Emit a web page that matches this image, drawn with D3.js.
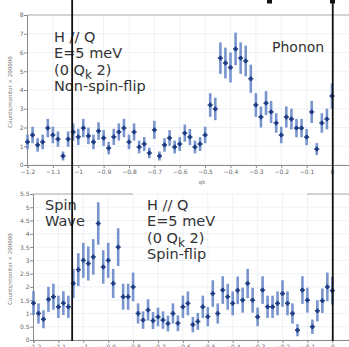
<!DOCTYPE html>
<html>
<head>
<meta charset="utf-8">
<script src="https://cdn.jsdelivr.net/npm/d3@7"></script>
<style>
  body { margin: 0; background: #fff; }
  svg { display: block; }
  text { font-family: "DejaVu Sans", sans-serif; }
</style>
</head>
<body>
<svg id="chart"></svg>
<script>
// qk grid (r.l.u.)
const qk = [-1.2, -1.18, -1.16, -1.14, -1.12, -1.1, -1.08, -1.06, -1.04, -1.02,
  -1.0, -0.98, -0.96, -0.94, -0.92, -0.9, -0.88, -0.86, -0.84, -0.82,
  -0.8, -0.78, -0.76, -0.74, -0.72, -0.7, -0.68, -0.66, -0.64, -0.62,
  -0.6, -0.58, -0.56, -0.54, -0.52, -0.5, -0.48, -0.46, -0.44, -0.42,
  -0.4, -0.38, -0.36, -0.34, -0.32, -0.3, -0.28, -0.26, -0.24, -0.22,
  -0.2, -0.18, -0.16, -0.14, -0.12, -0.1, -0.08, -0.06, -0.04, -0.02, 0];

// non-spin-flip counts / monitor x 200000
const nsfCounts = [1.23, 1.6, 1.07, 1.23, 1.97, 1.6, 1.38, 0.48, 1.38, 1.76,
  1.5, 1.97, 1.55, 1.23, 1.81, 1.44, 0.9, 1.5, 1.76, 1.97,
  1.23, 1.76, 0.96, 1.12, 0.64, 1.87, 0.48, 1.07, 1.44, 0.96,
  1.12, 1.7, 1.49, 0.96, 1.12, 1.6, 3.2, 2.99, 5.7, 5.44,
  5.2, 6.19, 5.7, 5.55, 4.6, 3.2, 2.56, 3.3, 2.83, 2.24,
  1.6, 2.56, 2.45, 1.97, 1.97, 1.49, 2.83, 0.85, 2.24, 2.45, 3.68];
const nsfErr = [0.39, 0.44, 0.36, 0.39, 0.49, 0.44, 0.41, 0.24, 0.41, 0.46,
  0.43, 0.49, 0.44, 0.39, 0.47, 0.42, 0.33, 0.43, 0.46, 0.49,
  0.39, 0.46, 0.34, 0.37, 0.28, 0.48, 0.24, 0.36, 0.42, 0.34,
  0.37, 0.46, 0.43, 0.34, 0.37, 0.44, 0.63, 0.6, 0.84, 0.82,
  0.8, 0.87, 0.84, 0.82, 0.75, 0.63, 0.56, 0.64, 0.59, 0.52,
  0.44, 0.56, 0.55, 0.49, 0.49, 0.43, 0.59, 0.32, 0.52, 0.55, 0.67];

// spin-flip counts / monitor x 200000
const sfCounts = [1.39, 1.0, 0.78, 1.53, 1.63, 1.25, 1.39, 1.25, 2.13, 2.65,
  3.0, 2.88, 3.13, 4.39, 2.75, 3.0, 2.13, 3.5, 1.63, 1.63,
  2.0, 1.0, 0.75, 1.13, 0.73, 0.87, 0.75, 0.62, 1.0, 0.63,
  1.25, 1.38, 0.58, 0.7, 1.25, 0.88, 1.75, 1.0, 1.88, 1.63,
  1.38, 1.87, 1.5, 2.13, 1.5, 0.87, 1.88, 1.25, 1.25, 1.38,
  1.75, 1.38, 1.0, 0.37, 1.88, 1.5, 0.5, 1.1, 1.48, 2.0, 1.86];
const sfErr = [0.45, 0.38, 0.34, 0.47, 0.49, 0.42, 0.45, 0.42, 0.55, 0.62,
  0.66, 0.64, 0.67, 0.8, 0.63, 0.66, 0.55, 0.71, 0.49, 0.49,
  0.54, 0.38, 0.33, 0.4, 0.32, 0.35, 0.33, 0.3, 0.38, 0.3,
  0.42, 0.45, 0.29, 0.32, 0.42, 0.36, 0.5, 0.38, 0.52, 0.49,
  0.45, 0.52, 0.47, 0.55, 0.47, 0.35, 0.52, 0.42, 0.42, 0.45,
  0.5, 0.45, 0.38, 0.23, 0.52, 0.47, 0.27, 0.4, 0.46, 0.54, 0.52];

const xTicks = [-1.2, -1.1, -1, -0.9, -0.8, -0.7, -0.6, -0.5, -0.4, -0.3, -0.2, -0.1, 0];
const nsfYTicks = [0, 1, 2, 3, 4, 5, 6, 7, 8];
const sfYTicks = [0, 0.5, 1, 1.5, 2, 2.5, 3, 3.5, 4, 4.5, 5, 5.5];
const nsfLabel = ["H // Q", "E=5 meV", "(0 Q|k| 2)", "Non-spin-flip"];
const sfLabel = ["H // Q", "E=5 meV", "(0 Q|k| 2)", "Spin-flip"];
const markerQk = [-1.024, 0.003]; // hand-drawn black lines

const W = 349, H = 347;
const svg = d3.select("#chart").attr("width", W).attr("height", H);

const barColor = "#6282c6";
const dotColor = "#1b3a82";
const axisColor = "#8a8a8a";

function drawPanel(p) {
  const x = d3.scaleLinear().domain([-1.2, 0.067]).range([p.left + 0.5, W]);
  const y = d3.scaleLinear().domain([0, p.yMax]).range([p.bottom, p.top]);
  const g = svg.append("g");

  // faint grid
  g.append("g").selectAll("line").data(p.yTicks).join("line")
    .attr("x1", p.left).attr("x2", W)
    .attr("y1", d => y(d)).attr("y2", d => y(d))
    .attr("stroke", "#e7edf4").attr("stroke-width", 0.7);
  g.append("g").selectAll("line").data(xTicks).join("line")
    .attr("x1", d => x(d)).attr("x2", d => x(d))
    .attr("y1", p.top).attr("y2", p.bottom)
    .attr("stroke", "#e7edf4").attr("stroke-width", 0.7);

  // axes
  const yAxis = g.append("g").attr("transform", `translate(${p.left},0)`)
    .call(d3.axisLeft(y).tickValues(p.yTicks).tickSize(3).tickFormat(d3.format("~g")));
  const xAxis = g.append("g").attr("transform", `translate(0,${p.bottom})`)
    .call(d3.axisBottom(x).tickValues(xTicks).tickSize(3).tickFormat(d3.format("~g")));
  [yAxis, xAxis].forEach(a => {
    a.select(".domain").attr("stroke", axisColor);
    a.selectAll(".tick line").attr("stroke", axisColor);
    a.selectAll(".tick text").attr("fill", "#666").attr("font-size", 6)
      .attr("font-family", "DejaVu Sans, sans-serif");
  });
  yAxis.selectAll(".tick text").attr("x", -3.5);
  xAxis.selectAll(".tick text").attr("y", 5);

  // top frame pieces
  p.frame.forEach(f => {
    g.append("line").attr("x1", f[0]).attr("x2", f[1])
      .attr("y1", p.top).attr("y2", p.top)
      .attr("stroke", "#9a9a9a").attr("stroke-width", 0.8);
  });

  // y-axis title
  g.append("text")
    .attr("transform", `translate(12,${(p.top + p.bottom) / 2 + 2}) rotate(-90)`)
    .attr("text-anchor", "middle").attr("font-size", 5.5).attr("fill", "#777")
    .text("Counts/monitor × 200000");

  // data with error bars
  const pts = qk.map((q, i) => ({ q, v: p.counts[i], e: p.err[i] }));
  const pg = g.append("g").selectAll("g").data(pts).join("g")
    .attr("transform", d => `translate(${x(d.q)},0)`);
  pg.append("line")
    .attr("y1", d => y(d.v - d.e)).attr("y2", d => y(d.v + d.e))
    .attr("stroke", barColor).attr("stroke-width", 2.6).attr("stroke-opacity", 0.85);
  pg.append("line")
    .attr("x1", -2.5).attr("x2", 2.5)
    .attr("y1", d => y(d.v)).attr("y2", d => y(d.v))
    .attr("stroke", dotColor).attr("stroke-width", 1.6);
  pg.append("line")
    .attr("y1", d => y(d.v) - 2.2).attr("y2", d => y(d.v) + 2.2)
    .attr("stroke", dotColor).attr("stroke-width", 2.4);

  // annotation block
  const t = g.append("text").attr("font-size", 14.5).attr("fill", "#333");
  p.label.forEach((line, i) => {
    const tl = t.append("tspan").attr("x", p.labelX).attr("y", p.labelY + i * 16.3);
    line.split("|").forEach((part, j) => {
      if (j === 1) tl.append("tspan").attr("dy", 4).attr("font-size", 12).text(part);
      else if (j === 2) tl.append("tspan").attr("dy", -4).text(part);
      else tl.append("tspan").text(part);
    });
  });
  return x;
}

const xTop = drawPanel({
  top: 15, bottom: 165, left: 27, yMax: 8, yTicks: nsfYTicks,
  counts: nsfCounts, err: nsfErr, label: nsfLabel, labelX: 54, labelY: 42,
  frame: [[27, W]]
});
svg.append("text").attr("x", 272).attr("y", 52).attr("font-size", 14)
  .attr("fill", "#333").text("Phonon");
svg.append("text").attr("x", 202).attr("y", 184).attr("font-size", 5.5)
  .attr("fill", "#777").attr("text-anchor", "middle").text("qk");

drawPanel({
  top: 194, bottom: 340, left: 33, yMax: 5.5, yTicks: sfYTicks,
  counts: sfCounts, err: sfErr, label: sfLabel, labelX: 147, labelY: 210,
  frame: [[33, 133], [307, W]]
});
const sw = svg.append("text").attr("font-size", 14.5).attr("fill", "#333");
sw.append("tspan").attr("x", 45).attr("y", 210).text("Spin");
sw.append("tspan").attr("x", 45).attr("y", 226).text("Wave");

// black vertical marker lines across both panels
svg.append("g").selectAll("line").data(markerQk).join("line")
  .attr("x1", d => xTop(d)).attr("x2", d => xTop(d))
  .attr("y1", 0).attr("y2", 341)
  .attr("stroke", "#111").attr("stroke-width", 1.8);
svg.append("g").selectAll("rect").data([267, 330]).join("rect")
  .attr("x", d => d).attr("y", 0).attr("width", 5).attr("height", 3.5)
  .attr("fill", "#111");
</script>
</body>
</html>
